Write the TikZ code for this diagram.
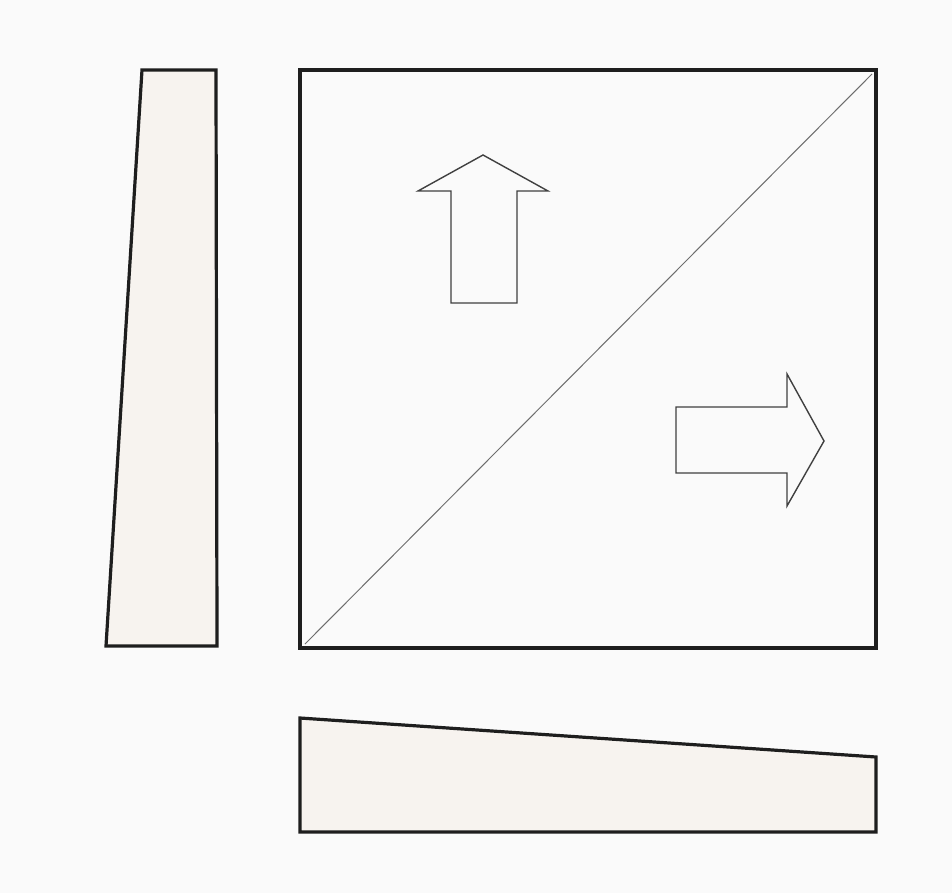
\documentclass[tikz,border=0pt]{standalone}
\usetikzlibrary{calc}
\definecolor{paperbg}{HTML}{FAFAFA}
\definecolor{wedgefill}{HTML}{F7F3EF}
\definecolor{inkdark}{HTML}{1E1E1E}

\begin{document}
\begin{tikzpicture}[
    x=1pt, y=-1pt,
    outline/.style={line width=3.2pt, inkdark, line join=miter},
    wedge/.style={outline, fill=wedgefill},
    hollowarrow/.style={line width=1.4pt, inkdark!85, line join=miter}
]

% Page
\fill[paperbg] (0,0) rectangle (952,893);
\useasboundingbox (0,0) rectangle (952,893);

% Left wedge
\draw[wedge] (142,70) -- (216,70) -- (217,646) -- (106,646) -- cycle;

% Bottom wedge
\draw[wedge] (300,718) -- (876,757) -- (876,832) -- (300,832) -- cycle;

% Main square
\coordinate (SqA) at (300,648);
\coordinate (SqB) at (876,70);
\draw[line width=1pt, inkdark!65] ($(SqA)+(5,-4)$) -- ($(SqB)+(-4,4)$);
\draw[outline] (SqA) rectangle (SqB);

% Upward arrow
\draw[hollowarrow] (483,155) -- (548,191) -- (517,191) -- (517,303)
    -- (451,303) -- (451,191) -- (418,191) -- cycle;

% Rightward arrow
\draw[hollowarrow] (824,441) -- (787,506) -- (787,473) -- (676,473)
    -- (676,407) -- (787,407) -- (787,374) -- cycle;

\end{tikzpicture}
\end{document}
